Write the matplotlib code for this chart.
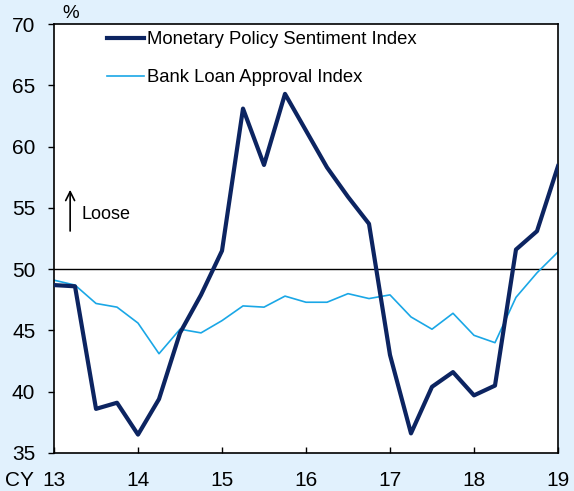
import numpy as np
import matplotlib.pyplot as plt

plt.rcParams['font.family'] = ['Liberation Sans', 'DejaVu Sans']

# quarterly, CY13 Q1 .. CY19 Q1
quarters = np.arange(25) / 4 + 13

monetary_policy = [48.7, 48.6, 38.6, 39.1, 36.5, 39.4, 44.8, 47.9, 51.5, 63.1,
                   58.5, 64.3, 61.3, 58.3, 55.9, 53.7, 43.0, 36.6, 40.4, 41.6,
                   39.7, 40.5, 51.6, 53.1, 58.4]
bank_loan = [49.1, 48.7, 47.2, 46.9, 45.6, 43.1, 45.1, 44.8, 45.8, 47.0,
             46.9, 47.8, 47.3, 47.3, 48.0, 47.6, 47.9, 46.1, 45.1, 46.4,
             44.6, 44.0, 47.7, 49.7, 51.4]

year_ticks = [13, 14, 15, 16, 17, 18, 19]
y_ticks = [35, 40, 45, 50, 55, 60, 65, 70]

bg = "#E1F1FD"
dark = "#0C2461"
light = "#1AA7E6"

fig = plt.figure(figsize=(5.74, 4.91), dpi=100, facecolor=bg)
ax = fig.add_axes([0.0941, 0.0774, 0.878, 0.8737])
ax.set_facecolor("white")

ax.axhline(50, color="black", lw=1.0, zorder=1)
ax.plot(quarters, monetary_policy, color=dark, lw=3.0,
        label="Monetary Policy Sentiment Index", zorder=3)
ax.plot(quarters, bank_loan, color=light, lw=1.2,
        label="Bank Loan Approval Index", zorder=2)

ax.set_xlim(13, 19)
ax.set_ylim(35, 70)
ax.set_xticks(year_ticks)
ax.set_xticklabels([str(y) for y in year_ticks])
ax.set_yticks(y_ticks)

ax.tick_params(axis="x", direction="in", length=4.5, width=1, labelsize=15, pad=13)
ax.tick_params(axis="y", direction="out", length=4.5, width=1, labelsize=15, pad=9)
for s in ax.spines.values():
    s.set_color("black")
    s.set_linewidth(1.2)

leg = ax.legend(loc="upper left", bbox_to_anchor=(0.105, 0.983), frameon=False,
                fontsize=13.3, handlelength=2.0, handletextpad=0.17,
                labelspacing=1.12, borderpad=0, borderaxespad=0)

# "Loose" arrow
ax.annotate("", xy=(0.032, 0.62), xytext=(0.032, 0.511),
            xycoords="axes fraction",
            arrowprops=dict(arrowstyle="->", color="black", lw=1.2,
                            mutation_scale=16))
ax.text(0.054, 0.555, "Loose", transform=ax.transAxes, fontsize=13,
        va="center", ha="left")

fig.text(62 / 574, 1 - 13 / 491, "%", fontsize=13.5, ha="left", va="center")
fig.text(5 / 574, 1 - 480 / 491, "CY", fontsize=15, ha="left", va="center")

fig.savefig("out.png", dpi=100, facecolor=bg)
